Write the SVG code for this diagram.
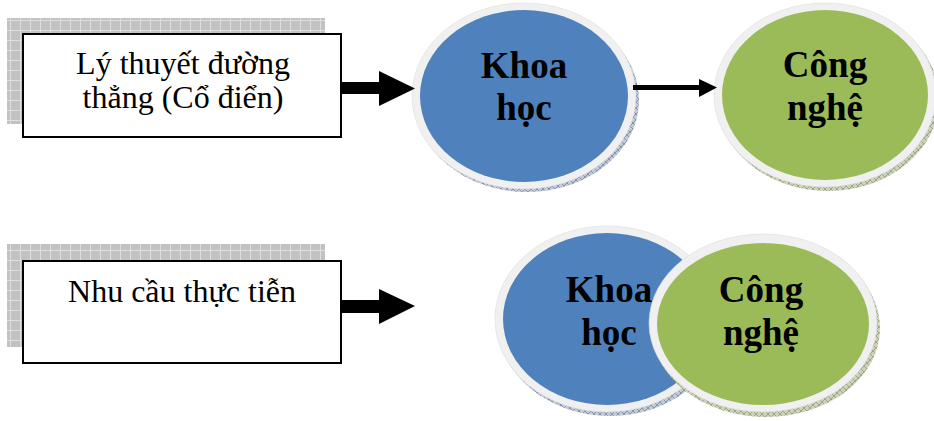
<svg xmlns="http://www.w3.org/2000/svg" width="934" height="421" viewBox="0 0 934 421">
<style>
.box{fill:#fff;stroke:#000;stroke-width:2}
.shadow{fill:url(#grid)}
.btxt{font-family:"Liberation Serif","Times New Roman",serif;font-size:32px;fill:#000;text-anchor:middle}
.etxt{font-family:"Liberation Serif","Times New Roman",serif;font-size:37px;font-weight:bold;fill:#000;text-anchor:middle}
.rim{fill:#f0f0f0;stroke:#dcdcdc;stroke-width:0.6}
.blue{fill:#4f81bd}
.green{fill:#9bbb59}
.edgeB{fill:url(#hatchB)}
.edgeG{fill:url(#hatchG)}
.arrow{fill:#000}
</style>
<defs>
<pattern id="grid" patternUnits="userSpaceOnUse" width="10" height="10">
<rect width="10" height="10" fill="#c2c2c2"/>
<path d="M0 0.5H10M0.5 0V10" stroke="#dedede" stroke-width="1"/>
</pattern>
<pattern id="hatchB" patternUnits="userSpaceOnUse" width="6" height="6">
<rect width="6" height="6" fill="#c3cad6"/>
<path d="M0 0L6 6M6 0L0 6" stroke="#6b7fa2" stroke-width="0.7"/>
</pattern>
<pattern id="hatchG" patternUnits="userSpaceOnUse" width="6" height="6">
<rect width="6" height="6" fill="#ccd2bb"/>
<path d="M0 0L6 6M6 0L0 6" stroke="#8a9868" stroke-width="0.7"/>
</pattern>
</defs>

<g id="box-ly-thuyet">
<rect class="shadow" x="7" y="18" width="318" height="106"/>
<rect class="box" x="23" y="34" width="318" height="103"/>
<text class="btxt" x="183" y="74">Lý thuyết đường</text>
<text class="btxt" x="183" y="108">thẳng (Cổ điển)</text>
</g>

<g id="box-nhu-cau">
<rect class="shadow" x="7" y="244" width="318" height="103"/>
<rect class="box" x="23" y="261" width="318" height="102"/>
<text class="btxt" x="182" y="302">Nhu cầu thực tiễn</text>
</g>

<g id="khoa-hoc-top">
<ellipse class="edgeB" cx="527" cy="100" rx="112" ry="92"/>
<ellipse class="rim" cx="524" cy="96" rx="112" ry="93"/>
<ellipse class="blue" cx="524" cy="96" rx="104" ry="86"/>
<text class="etxt" x="524" y="78">Khoa</text>
<text class="etxt" x="524" y="120">học</text>
</g>

<g id="cong-nghe-top">
<ellipse class="edgeG" cx="828" cy="99" rx="111" ry="92"/>
<ellipse class="rim" cx="825" cy="95" rx="111" ry="92"/>
<ellipse class="green" cx="825" cy="95" rx="103" ry="85"/>
<text class="etxt" x="825" y="77">Công</text>
<text class="etxt" x="825" y="120">nghệ</text>
</g>

<g id="khoa-hoc-bottom">
<ellipse class="edgeB" cx="610" cy="323" rx="112" ry="93"/>
<ellipse class="rim" cx="607" cy="319" rx="112" ry="93"/>
<ellipse class="blue" cx="607" cy="319" rx="104" ry="86"/>
<text class="etxt" x="609" y="302">Khoa</text>
<text class="etxt" x="609" y="345">học</text>
</g>

<g id="cong-nghe-bottom">
<ellipse class="edgeG" cx="766" cy="328" rx="114" ry="89"/>
<ellipse class="rim" cx="763" cy="323" rx="114" ry="89"/>
<ellipse class="green" cx="763" cy="324" rx="106" ry="81"/>
<text class="etxt" x="761" y="302">Công</text>
<text class="etxt" x="761" y="345">nghệ</text>
</g>

<g id="connectors">
<polygon class="arrow" points="342,82 379,82 379,71 415,88.5 379,106 379,94 342,94"/>
<polygon class="arrow" points="342,300 379,300 379,289 415,306 379,324 379,313 342,313"/>
<line x1="633" y1="87.5" x2="701" y2="87.5" stroke="#000" stroke-width="5"/>
<polygon class="arrow" points="699,79 717,87.5 699,97"/>
</g>
</svg>
